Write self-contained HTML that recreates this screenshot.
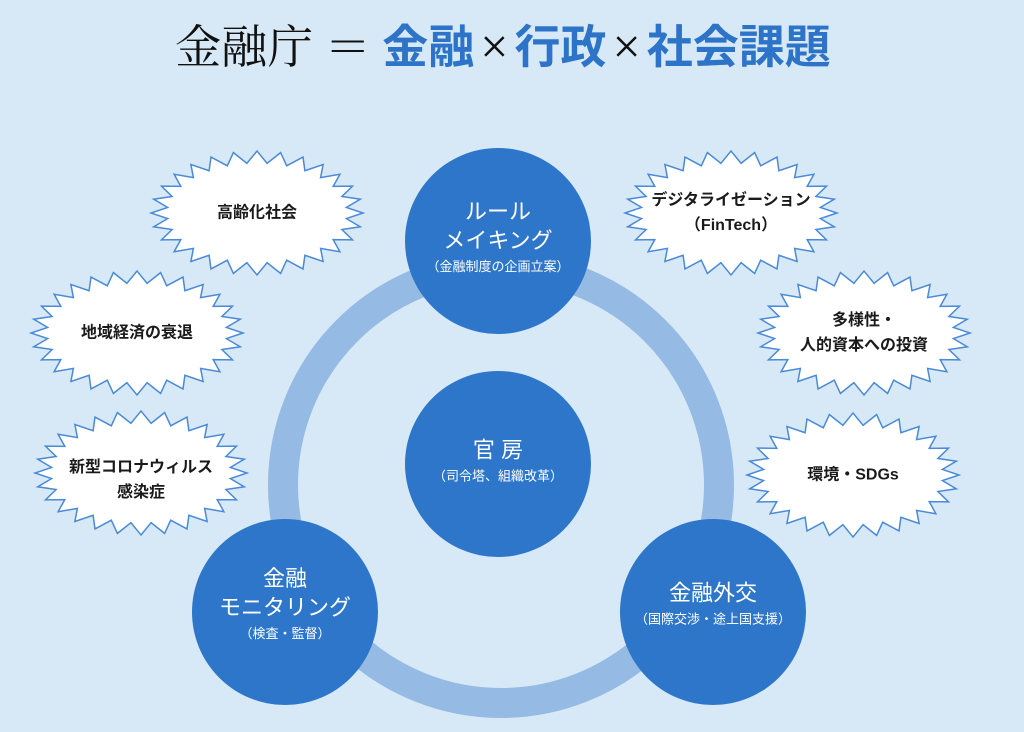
<!DOCTYPE html>
<html><head><meta charset="utf-8"><style>
body{margin:0;width:1024px;height:732px;background:#d7e9f7;overflow:hidden;position:relative;font-family:"Liberation Sans","Noto Sans CJK JP",sans-serif}
.title{position:absolute;top:14px;left:0;width:1006px;text-align:center;font-size:46px;line-height:64px;white-space:nowrap}
.s{font-family:"Liberation Serif","Noto Serif CJK SC",serif;color:#111}
.x{font-family:"Liberation Serif",serif;color:#111;font-size:50px;margin:0 6px}
.b{color:#2d74c8;font-weight:bold;font-family:"Liberation Sans","Noto Sans CJK JP",sans-serif}
svg{position:absolute;left:0;top:0}
.t{position:absolute;text-align:center;transform:translate(-50%,-50%);white-space:nowrap}
.st{font-size:16px;color:#1a1a1a;font-weight:bold;line-height:25px}
.c{color:#fff;font-size:22px;line-height:29px}
.c small{display:block;font-size:13px;line-height:24px}
</style></head><body>
<div class="title"><span class="s">金融庁 ＝ </span><span class="b">金融</span><span class="x">×</span><span class="b">行政</span><span class="x">×</span><span class="b">社会課題</span></div>
<svg width="1024" height="732" id="g">
<circle cx="501" cy="485" r="218" fill="none" stroke="#95bae3" stroke-width="30"/>
<circle cx="498" cy="241" r="93" fill="#2d76c9"/>
<circle cx="498" cy="464" r="93" fill="#2d76c9"/>
<circle cx="285" cy="612" r="93" fill="#2d76c9"/>
<circle cx="713" cy="612" r="93" fill="#2d76c9"/>
</svg>
<script>
var g=document.getElementById('g');
[[257,213],[137,333],[141,473],[731,213],[864,333],[853,475]].forEach(function(p){
var n=28,pts=[];for(var i=0;i<2*n;i++){var a=Math.PI*i/n,o=i%2==0;var rx=o?106:90,ry=o?62:50;pts.push((p[0]+rx*Math.cos(a)).toFixed(1)+','+(p[1]+ry*Math.sin(a)).toFixed(1));}
var e=document.createElementNS('http://www.w3.org/2000/svg','polygon');e.setAttribute('points',pts.join(' '));e.setAttribute('fill','#fff');e.setAttribute('stroke','#4a8ad6');e.setAttribute('stroke-width','1.5');g.appendChild(e);});
</script>
<div class="t st" style="left:257px;top:213px">高齢化社会</div>
<div class="t st" style="left:137px;top:333px">地域経済の衰退</div>
<div class="t st" style="left:141px;top:480px">新型コロナウィルス<br>感染症</div>
<div class="t st" style="left:731px;top:213px">デジタライゼーション<br>（FinTech）</div>
<div class="t st" style="left:864px;top:333px">多様性・<br>人的資本への投資</div>
<div class="t st" style="left:853px;top:475px">環境・SDGs</div>
<div class="t c" style="left:498px;top:238px">ルール<br>メイキング<small>（金融制度の企画立案）</small></div>
<div class="t c" style="left:498px;top:462px">官 房<small>（司令塔、組織改革）</small></div>
<div class="t c" style="left:285px;top:605px">金融<br>モニタリング<small>（検査・監督）</small></div>
<div class="t c" style="left:713px;top:605px">金融外交<small>（国際交渉・途上国支援）</small></div>
</body></html>
